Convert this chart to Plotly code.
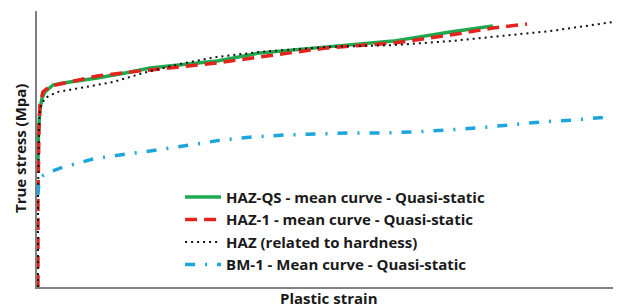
import plotly.graph_objects as go

# Plastic strain (-) and true stress (MPa)
haz_qs_strain = [0.0005, 0.0008, 0.0015, 0.0026, 0.0041, 0.0082, 0.0134, 0.031, 0.048, 0.058,
                 0.0925, 0.1146, 0.149, 0.1829, 0.2122, 0.2342]
haz_qs_stress = [506, 626, 705, 753, 777, 805, 813, 833, 857, 873,
                 901, 933, 957, 980, 1016, 1040]

haz1_strain = [0.0005, 0.0005, 0.001, 0.0015, 0.003, 0.0067, 0.0118, 0.031, 0.048, 0.058,
               0.0925, 0.1146, 0.149, 0.1829, 0.2122, 0.2342, 0.2517]
haz1_stress = [0, 347, 626, 725, 777, 801, 809, 841, 857, 865,
               893, 917, 953, 972, 1004, 1032, 1048]

haz_hard_strain = [0.0005, 0.0005, 0.001, 0.0015, 0.0041, 0.0103, 0.0221, 0.039, 0.0565, 0.0735,
                   0.0925, 0.1146, 0.149, 0.1829, 0.2122, 0.2379, 0.2635, 0.2995]
haz_hard_stress = [0, 347, 626, 713, 753, 777, 793, 817, 857, 889,
                   917, 937, 957, 964, 980, 1000, 1020, 1060]

bm1_strain = [0.0005, 0.001, 0.0026, 0.0051, 0.0134, 0.0288, 0.0457, 0.058, 0.0786, 0.095,
              0.111, 0.1274, 0.1443, 0.1608, 0.1772, 0.1942, 0.2106, 0.2265, 0.243, 0.2594,
              0.2764, 0.2943]
bm1_stress = [367, 426, 442, 454, 478, 510, 530, 542, 566, 586,
              598, 606, 610, 614, 614, 618, 626, 634, 646, 658,
              666, 678]

names = ["HAZ-QS - mean curve - Quasi-static",
         "HAZ-1 - mean curve - Quasi-static",
         "HAZ (related to hardness)",
         "BM-1 - Mean curve - Quasi-static"]
x_title = "Plastic strain"
y_title = "True stress (Mpa)"

FONT = "Open Sans"
TXT = "#1a1a1a"

fig = go.Figure()
fig.add_trace(go.Scatter(x=haz_qs_strain, y=haz_qs_stress, mode="lines",
                         name="<b>" + names[0] + "</b>", legendgroup="a",
                         line=dict(color="#1fa94f", width=3.5)))
fig.add_trace(go.Scatter(x=haz1_strain, y=haz1_stress, mode="lines",
                         name="<b>" + names[1] + "</b>", legendgroup="b",
                         line=dict(color="#e4231d", width=3.5, dash="12px,7px")))
fig.add_trace(go.Scatter(x=haz_hard_strain, y=haz_hard_stress, mode="lines",
                         name="<b>" + names[2] + "</b>", legendgroup="c",
                         line=dict(color="#111111", width=2, dash="2px,4px")))
fig.add_trace(go.Scatter(x=bm1_strain, y=bm1_stress, mode="lines",
                         name="<b>" + names[3] + "</b>", legendgroup="d",
                         line=dict(color="#1ea6dc", width=3.5, dash="10px,10px,2px,10px")))

# page body has an 8px default margin, so the figure is 8px smaller and margins shifted
fig.update_layout(
    width=613, height=299,
    margin=dict(l=29, r=0, t=3, b=20, autoexpand=False),
    paper_bgcolor="white", plot_bgcolor="white",
    font=dict(family=FONT, size=15, color=TXT),
    showlegend=True,
    legend=dict(x=0.245, y=0.385, xanchor="left", yanchor="top",
                bgcolor="rgba(255,255,255,0)", tracegroupgap=0, itemwidth=36,
                font=dict(family=FONT, size=15, color=TXT)),
    xaxis=dict(range=[0, 0.3], showline=True, linecolor="#808080", linewidth=2,
               showgrid=False, zeroline=False, showticklabels=False, ticks="",
               automargin=False),
    yaxis=dict(range=[0, 1100], showline=True, linecolor="#808080", linewidth=2,
               showgrid=False, zeroline=False, showticklabels=False, ticks="",
               automargin=False),
    annotations=[
        dict(text="<b>" + x_title + "</b>", xref="paper", yref="paper",
             x=0.5, y=0, yshift=-11, xanchor="center", yanchor="middle",
             showarrow=False, font=dict(family=FONT, size=15, color=TXT)),
        dict(text="<b>" + y_title + "</b>", xref="paper", yref="paper",
             x=0, y=0.5, xshift=-17, xanchor="center", yanchor="middle",
             textangle=-90, showarrow=False,
             font=dict(family=FONT, size=15, color=TXT)),
    ],
)

fig.write_html("out.html")
